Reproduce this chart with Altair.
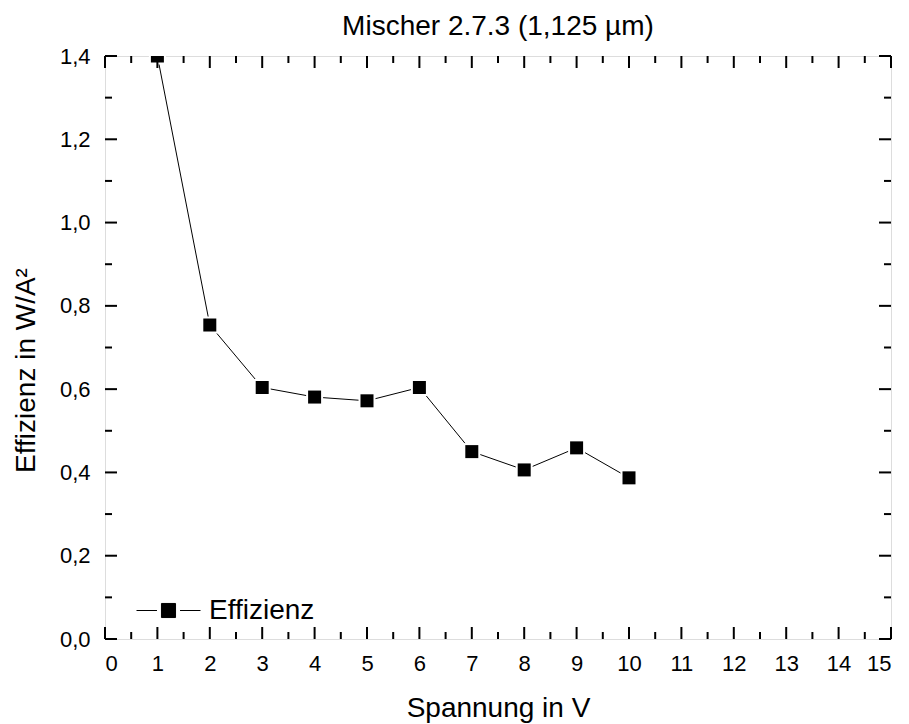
import altair as alt
import pandas as pd

voltage = [1, 2, 3, 4, 5, 6, 7, 8, 9, 10]
efficiency = [1.40, 0.754, 0.604, 0.581, 0.572, 0.604, 0.450, 0.406, 0.459, 0.387]
series_name = "Effizienz"

x_major = list(range(0, 16))
x_minor = [v + 0.5 for v in range(0, 15)]
y_major = [0.0, 0.2, 0.4, 0.6, 0.8, 1.0, 1.2, 1.4]
y_minor = [0.1, 0.3, 0.5, 0.7, 0.9, 1.1, 1.3]

W, H = 786, 583
FONT = "Liberation Sans"

df = pd.DataFrame({"V": voltage, "E": efficiency, "s": [series_name] * len(voltage)})
xs = alt.Scale(domain=[0, 15], nice=False, zero=False)
ys = alt.Scale(domain=[0, 1.4], nice=False, zero=False)

x_axis = alt.Axis(values=x_major, ticks=False, domain=False, grid=False,
                  labelFontSize=22, labelPadding=14, labelFont=FONT, labelColor="black",
                  title="Spannung in V", titleFontSize=28, titleFont=FONT,
                  titleFontWeight="normal", titleColor="black",
                  titleBaseline="alphabetic", titleY=77)
y_axis = alt.Axis(values=y_major, ticks=False, domain=False, grid=False,
                  labelExpr="replace(format(datum.value, '.1f'), '.', ',')",
                  labelFontSize=22, labelPadding=15, labelFont=FONT, labelColor="black",
                  title="Effizienz in W/A²", titleFontSize=28, titleFont=FONT,
                  titleFontWeight="normal", titleColor="black",
                  titleBaseline="alphabetic", titleX=-71, titleY=314)

base = alt.Chart(df)

line = base.mark_line(color="black", strokeWidth=1, clip=True).encode(
    x=alt.X("V:Q", scale=xs, axis=x_axis),
    y=alt.Y("E:Q", scale=ys, axis=y_axis),
)
halo = base.mark_square(color="white", size=289, opacity=1, clip=True).encode(
    x=alt.X("V:Q", scale=xs), y=alt.Y("E:Q", scale=ys)
)
legend_path = "M-1,0H-0.36M0.36,0H1M-0.22,-0.22H0.22V0.22H-0.22Z"
points = base.mark_square(size=169, opacity=1, clip=True).encode(
    x=alt.X("V:Q", scale=xs), y=alt.Y("E:Q", scale=ys),
    color=alt.Color("s:N", scale=alt.Scale(range=["black"]),
                    legend=alt.Legend(title=None, orient="none", legendX=31, legendY=522,
                                      padding=0, symbolType=legend_path, symbolSize=4096,
                                      symbolStrokeColor="black", symbolStrokeWidth=1,
                                      symbolFillColor="black",
                                      labelFontSize=28, labelFont=FONT, labelColor="black",
                                      labelOffset=8)),
)

def tick_layer(vals, field, length, side):
    d = pd.DataFrame({field: vals})
    c = alt.Chart(d).mark_rule(color="black", strokeWidth=2)
    if field == "tx":
        if side == "bottom":
            return c.encode(x=alt.X("tx:Q", scale=xs), y=alt.value(H), y2=alt.value(H - length))
        return c.encode(x=alt.X("tx:Q", scale=xs), y=alt.value(0), y2=alt.value(length))
    if side == "left":
        return c.encode(y=alt.Y("ty:Q", scale=ys), x=alt.value(0), x2=alt.value(length))
    return c.encode(y=alt.Y("ty:Q", scale=ys), x=alt.value(W), x2=alt.value(W - length))

ticks = [
    tick_layer(x_major, "tx", 12, "bottom"), tick_layer(x_minor, "tx", 7, "bottom"),
    tick_layer(x_major, "tx", 12, "top"), tick_layer(x_minor, "tx", 7, "top"),
    tick_layer(y_major, "ty", 12, "left"), tick_layer(y_minor, "ty", 7, "left"),
    tick_layer(y_major, "ty", 12, "right"), tick_layer(y_minor, "ty", 7, "right"),
]

chart = alt.layer(line, halo, points, *ticks).properties(
    width=W, height=H,
    title=alt.TitleParams("Mischer 2.7.3 (1,125 µm)", fontSize=28, font=FONT,
                          fontWeight="normal", color="black", anchor="middle",
                          offset=4),
    autosize=alt.AutoSizeParams(type="none"),
    padding={"left": 97, "top": 48, "right": 10, "bottom": 85},
).configure_view(stroke="black", strokeWidth=2).configure(background="white")

chart.save("out.html", embed_options={"renderer": "svg", "actions": False})
